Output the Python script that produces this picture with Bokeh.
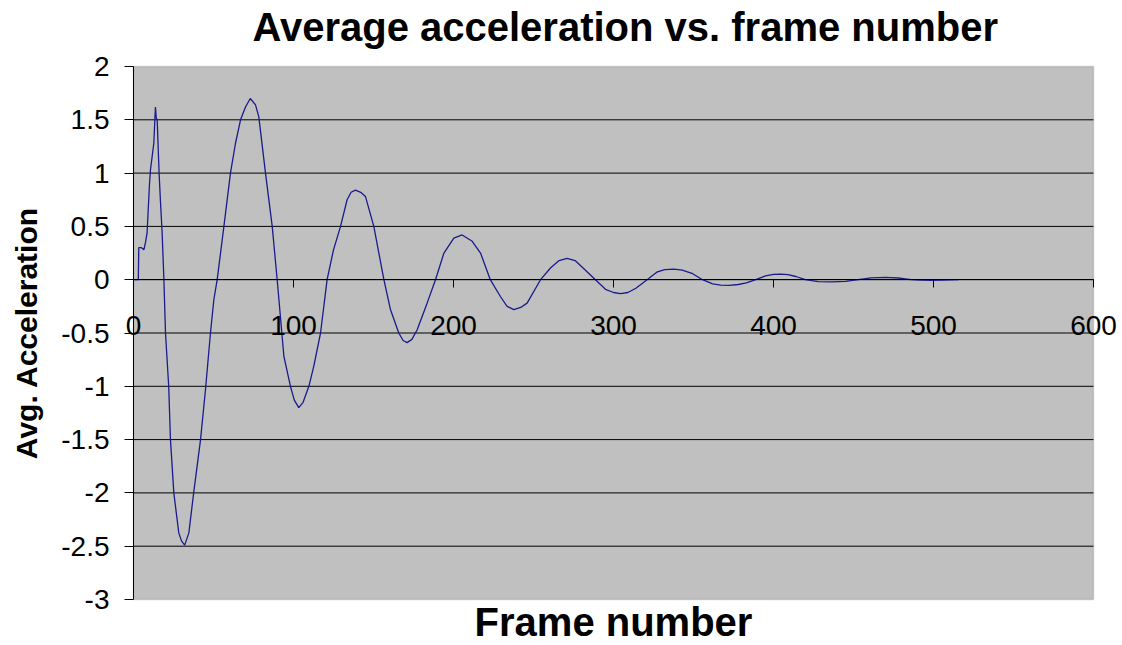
from bokeh.plotting import figure
from bokeh.models import (Range1d, FixedTicker, CustomJSTickFormatter, Title, BoxAnnotation)
from bokeh.embed import file_html
from bokeh.resources import INLINE

# ---- data ----
frame = [0, 3, 3.3, 5, 6.5, 7.5, 8.5, 10, 10.6, 12.7, 13.7, 14.2, 14.8, 16, 16.9, 17.9,
         19, 20, 22, 23.1, 25.2, 28.3, 30, 32, 34.6, 37.6, 41.9, 45, 48.1, 50.2,
         52.3, 56.5, 60.6, 63.75, 66.9, 70, 73, 76.25, 78.3, 82.5, 86.7,
         89.8, 94, 98.1, 100.5, 103.3, 106, 109.6, 112.7, 116.9,
         121, 125, 129.4, 133.5, 136, 138.75, 142, 145, 150.2,
         156.5, 160.6, 165.8, 168.5, 171, 174, 177.3, 183.5,
         188.75, 194, 200.2, 205.4, 211.7, 216.9,
         223, 229.4, 233.5, 237.7, 242, 246,
         254.4, 260.6, 266, 271, 276, 281,
         288.7, 295, 300, 304.4, 309, 314,
         321, 327, 332, 337.7, 343, 349,
         355.6, 362, 367, 372.2, 378, 383,
         388.9, 395, 400, 404.4, 409, 414,
         419.9, 428, 436.5, 445,
         453, 461, 469.9, 478,
         486, 492, 498, 506, 516]
accel = [0, 0, 0.30, 0.30, 0.28, 0.35, 0.44, 0.90, 1.03, 1.28, 1.62, 1.52, 1.50, 1.00, 0.72, 0.44,
         0, -0.50, -1.00, -1.50, -2.00, -2.375, -2.45, -2.49, -2.375, -2.00, -1.50, -1.03, -0.50, -0.19,
         0, 0.50, 1.00, 1.28, 1.50, 1.62, 1.70, 1.64, 1.53, 1.00, 0.50,
         0, -0.72, -1.00, -1.13, -1.20, -1.15, -1.00, -0.81, -0.50,
         0, 0.28, 0.50, 0.75, 0.82, 0.84, 0.82, 0.78, 0.50,
         0, -0.28, -0.50, -0.57, -0.59, -0.56, -0.47, -0.22,
         0, 0.25, 0.39, 0.42, 0.36, 0.25,
         0, -0.16, -0.25, -0.28, -0.26, -0.22,
         0, 0.11, 0.18, 0.20, 0.18, 0.11,
         0, -0.09, -0.12, -0.13, -0.12, -0.08,
         0, 0.07, 0.095, 0.10, 0.09, 0.06,
         0, -0.04, -0.05, -0.053, -0.045, -0.03,
         0, 0.035, 0.05, 0.053, 0.048, 0.03,
         0, -0.018, -0.02, -0.015,
         0, 0.018, 0.022, 0.016,
         0, -0.004, -0.005, -0.003, 0]

x_ticks = [0, 100, 200, 300, 400, 500, 600]
y_ticks = [-3, -2.5, -2, -1.5, -1, -0.5, 0, 0.5, 1, 1.5, 2]

title_text = "Average acceleration vs. frame number"
x_title = "Frame number"
y_title = "Avg. Acceleration"

FONT = "Liberation Sans"

# ---- layout geometry (pixels) ----
W, H = 1122, 645
PA_L, PA_R, PA_T, PA_B = 133, 1093, 66, 599     # grey plot area
FR_L, FR_R, FR_T, FR_B = 0, W, 48, H            # bokeh frame (holds axes crossing inside)

x0, x1 = x_ticks[0], x_ticks[-1]
y0, y1 = y_ticks[0], y_ticks[-1]
kx = (PA_R - PA_L) / (x1 - x0)
ky = (PA_B - PA_T) / (y1 - y0)
x_range = Range1d(x0 - (PA_L - FR_L) / kx, x1 + (FR_R - PA_R) / kx)
y_range = Range1d(y0 - (FR_B - PA_B) / ky, y1 + (PA_T - FR_T) / ky)

p = figure(width=W, height=H, output_backend="svg", toolbar_location=None,
           x_range=x_range, y_range=y_range,
           min_border_left=FR_L, min_border_right=W - FR_R,
           min_border_top=FR_T, min_border_bottom=H - FR_B,
           background_fill_color="white", border_fill_color="white",
           outline_line_color=None)
p.grid.visible = False

xa = p.below[0]
ya = p.left[0]

p.add_layout(Title(text=title_text, text_font=FONT, text_font_size="40px",
                   text_font_style="bold", text_color="black", align="left",
                   offset=252, standoff=0), "above")

# grey plot area with its border
p.add_layout(BoxAnnotation(left=x0, right=x1, bottom=y0, top=y1,
                           fill_color="#C0C0C0", fill_alpha=1.0,
                           line_color="#808080", line_width=1.5, level="underlay"))

# horizontal gridlines across the plot area
grid_y = y_ticks[1:-1]
p.segment(x0=[x0] * len(grid_y), x1=[x1] * len(grid_y), y0=grid_y, y1=grid_y,
          line_color="black", line_width=1)

fmt = CustomJSTickFormatter(code="return String(Math.round(tick*10)/10);")

# x axis crossing at y = 0
xa.fixed_location = 0
xa.bounds = (x0, x1)
xa.ticker = FixedTicker(ticks=x_ticks)
xa.formatter = fmt
xa.axis_line_color = "black"
xa.major_tick_line_color = "black"
xa.major_tick_out = 8
xa.major_tick_in = 0
xa.minor_tick_line_color = None
xa.major_label_text_font = FONT
xa.major_label_text_font_size = "28px"
xa.major_label_text_color = "black"
xa.major_label_standoff = 28
xa.axis_label = x_title
xa.axis_label_text_font = FONT
xa.axis_label_text_font_size = "40px"
xa.axis_label_text_font_style = "bold"
xa.axis_label_text_color = "black"
xa.axis_label_standoff = 262

# y axis at x = 0
ya.fixed_location = 0
ya.bounds = (y0, y1)
ya.ticker = FixedTicker(ticks=y_ticks)
ya.formatter = fmt
ya.axis_line_color = "black"
ya.major_tick_line_color = "black"
ya.major_tick_out = 9
ya.major_tick_in = 0
ya.minor_tick_line_color = None
ya.major_label_text_font = FONT
ya.major_label_text_font_size = "28px"
ya.major_label_text_color = "black"
ya.major_label_standoff = 15
ya.axis_label = y_title
ya.axis_label_text_font = FONT
ya.axis_label_text_font_size = "30px"
ya.axis_label_text_font_style = "bold"
ya.axis_label_text_color = "black"
ya.axis_label_standoff = 15

p.line(frame, accel, line_color="#1a1a8c", line_width=1.3)

open("out.html", "w").write(file_html(p, INLINE))
